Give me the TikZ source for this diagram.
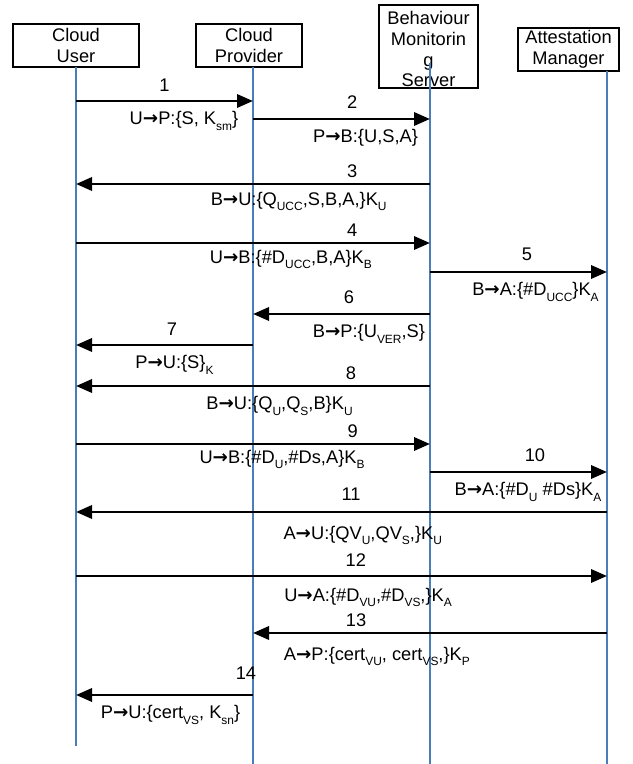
\documentclass[tikz,border=0pt]{standalone}
\usepackage{fontspec}
\setmainfont{Liberation Sans}
\newfontfamily\arrowfont{DejaVu Sans}
\usepackage{tikz}
\usetikzlibrary{arrows.meta,positioning}
\definecolor{LifeBlue}{HTML}{4A7EBB}
\newcommand{\lowtxt}[1]{\raisebox{-0.3em}{\fontsize{8.5}{8.5}\selectfont #1}}
\newcommand{\goesto}{{\arrowfont\bfseries →}}

\begin{document}
\begin{tikzpicture}[
    party/.style={draw=black, line width=0.05cm, fill=white, align=center, inner sep=0pt,
                  minimum height=1.075cm, font=\fontsize{13}{14.7}\selectfont},
    life/.style={LifeBlue, line width=0.04cm},
    msg/.style={-{Triangle[length=0.4cm, width=0.33cm]}, line width=0.07cm},
    num/.style={font=\fontsize{13}{14.7}\selectfont, inner sep=0pt, text height=0.33cm,
                text depth=0pt, above=0.21cm},
    txt/.style={font=\fontsize{13}{14.7}\selectfont, inner sep=0pt, text height=0.33cm,
                below=0.225cm},
  ]
    \useasboundingbox (0,0) rectangle (15.825,-19.1);
    % the four parties
    \node[party, minimum width=3.15cm] (user) at (1.9,-1.1375) {Cloud\\User};
    \node[party, minimum width=2.65cm] (prov) at (6.225,-1.1375) {Cloud\\Provider};
    \node[party, minimum width=2.475cm, minimum height=2.075cm] (bms) at (10.7125,-1.1625) {};
    \node[font=\fontsize{13}{14.7}\selectfont, align=center, inner sep=0pt] (bmsname)
        at (10.7125,-1.234) {Behaviour\\Monitorin\\g\\Server};
    \node[party, minimum width=2.525cm] (att) at (14.2125,-1.2375) {Attestation\\Manager};
    % lifelines
    \coordinate (uTop) at (1.9,-1.675);
    \coordinate (pTop) at (6.325,-1.675);
    \coordinate (bTop) at (10.75,-1.575);
    \coordinate (aTop) at (15.175,-1.775);
    \coordinate (uEnd) at (1.9,-18.65);
    \coordinate (pEnd) at (6.325,-19.1);
    \coordinate (bEnd) at (10.75,-19.1);
    \coordinate (aEnd) at (15.175,-19.1);
    \draw[life] (uTop) -- (uEnd);
    \draw[life] (pTop) -- (pEnd);
    \draw[life] (bTop) -- (bEnd);
    \draw[life] (aTop) -- (aEnd);
    % messages
    \draw[msg] (uTop |- 0,-2.525) -- (pTop |- 0,-2.525)
        node[num, pos=0.5] {1} node[txt, pos=0.61] {U\goesto P:\{S, K\lowtxt{sm}\}};
    \draw[msg] (pTop |- 0,-2.975) -- (bTop |- 0,-2.975)
        node[num, pos=0.56, above=0.235cm] {2} node[txt, pos=0.636] {P\goesto B:\{U,S,A\}};
    \draw[msg] (bTop |- 0,-4.6) -- (uTop |- 0,-4.6)
        node[num, pos=0.22, above=0.135cm] {3}
        node[txt, pos=0.371, below=0.16cm] {B\goesto U:\{Q\lowtxt{UCC},S,B,A,\}K\lowtxt{U}};
    \draw[msg] (uTop |- 0,-6.075) -- (bTop |- 0,-6.075)
        node[num, pos=0.78, above=0.135cm] {4}
        node[txt, pos=0.607, below=0.135cm] {U\goesto B:\{\#D\lowtxt{UCC},B,A\}K\lowtxt{B}};
    \draw[msg] (bTop |- 0,-6.8) -- (aTop |- 0,-6.8)
        node[num, pos=0.548, above=0.26cm] {5}
        node[txt, pos=0.596] {B\goesto A:\{\#D\lowtxt{UCC}\}K\lowtxt{A}};
    \draw[msg] (bTop |- 0,-7.85) -- (pTop |- 0,-7.85)
        node[num, pos=0.458, above=0.235cm] {6} node[txt, pos=0.345] {B\goesto P:\{U\lowtxt{VER},S\}};
    \draw[msg] (pTop |- 0,-8.625) -- (uTop |- 0,-8.625)
        node[num, pos=0.458] {7} node[txt, pos=0.444] {P\goesto U:\{S\}\lowtxt{K}};
    \draw[msg] (bTop |- 0,-9.65) -- (uTop |- 0,-9.65)
        node[num, pos=0.223, above=0.135cm] {8}
        node[txt, pos=0.425] {B\goesto U:\{Q\lowtxt{U},Q\lowtxt{S},B\}K\lowtxt{U}};
    \draw[msg] (uTop |- 0,-11.1) -- (bTop |- 0,-11.1)
        node[num, pos=0.782, above=0.135cm] {9}
        node[txt, pos=0.582, below=0.11cm] {U\goesto B:\{\#D\lowtxt{U},\#Ds,A\}K\lowtxt{B}};
    \draw[msg] (bTop |- 0,-11.8) -- (aTop |- 0,-11.8)
        node[num, pos=0.593, above=0.235cm] {10}
        node[txt, pos=0.554] {B\goesto A:\{\#D\lowtxt{U} \#Ds\}K\lowtxt{A}};
    \draw[msg] (aTop |- 0,-12.8) -- (uTop |- 0,-12.8)
        node[num, pos=0.482, above=0.26cm] {11}
        node[txt, pos=0.46, below=0.32cm] {A\goesto U:\{QV\lowtxt{U},QV\lowtxt{S},\}K\lowtxt{U}};
    \draw[msg] (uTop |- 0,-14.4) -- (aTop |- 0,-14.4)
        node[num, pos=0.527] {12}
        node[txt, pos=0.55, below=0.26cm] {U\goesto A:\{\#D\lowtxt{VU},\#D\lowtxt{VS},\}K\lowtxt{A}};
    \draw[msg] (aTop |- 0,-15.825) -- (pTop |- 0,-15.825)
        node[num, pos=0.709, above=0.135cm] {13}
        node[txt, pos=0.65, below=0.31cm] {A\goesto P:\{cert\lowtxt{VU}, cert\lowtxt{VS},\}K\lowtxt{P}};
    \draw[msg] (pTop |- 0,-17.375) -- (uTop |- 0,-17.375)
        node[num, pos=0.04, above=0.36cm] {14}
        node[txt, pos=0.466] {P\goesto U:\{cert\lowtxt{VS}, K\lowtxt{sn}\}};
  \end{tikzpicture}
\end{document}
